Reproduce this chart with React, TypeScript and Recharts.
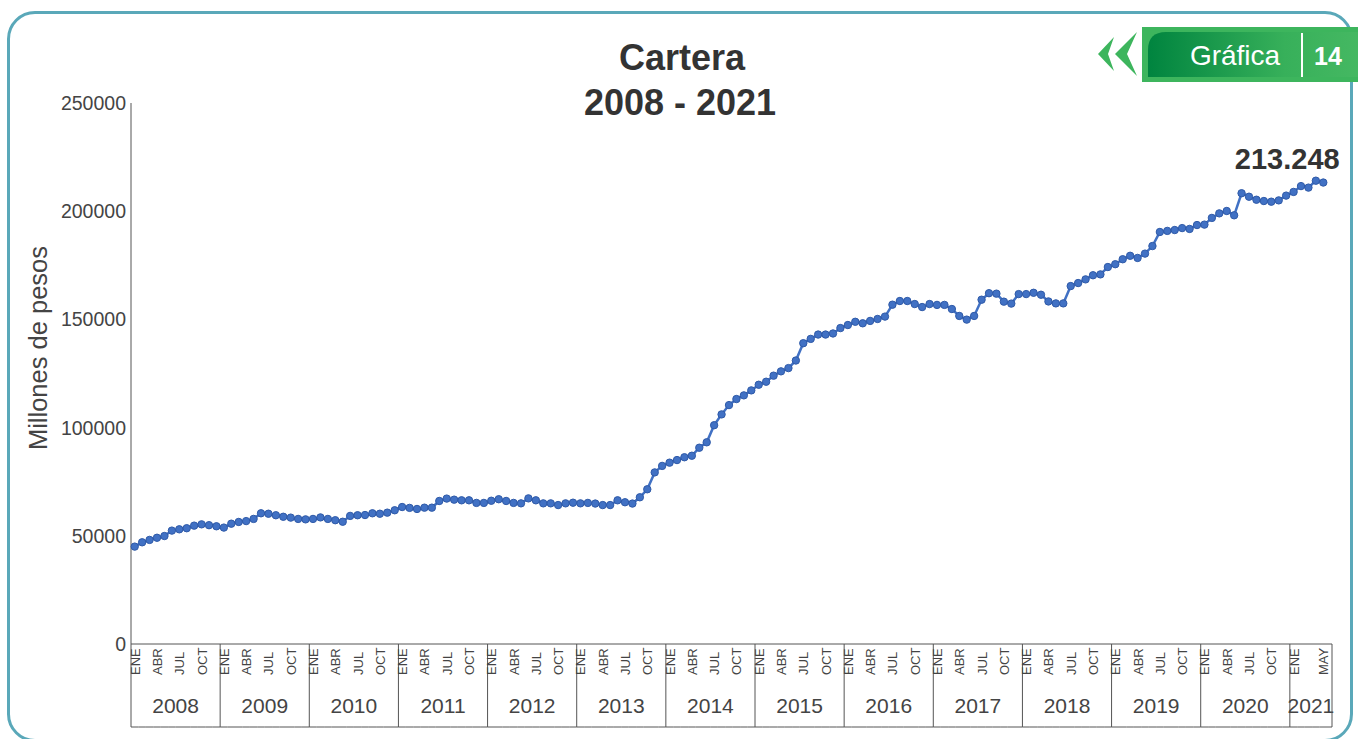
import React from 'react';
import { LineChart, Line, XAxis, YAxis, LabelList } from 'recharts';

// ---------- data ----------
const YEARS = [2008, 2009, 2010, 2011, 2012, 2013, 2014, 2015, 2016, 2017, 2018, 2019, 2020, 2021];
const MONTHS = ['ENE', 'FEB', 'MAR', 'ABR', 'MAY', 'JUN', 'JUL', 'AGO', 'SEP', 'OCT', 'NOV', 'DIC'];

const cartera2008 = [45000, 47000, 48100, 49100, 49900, 52400, 53000, 53500, 54700, 55300, 54900, 54400];
const cartera2009 = [53800, 55600, 56400, 56800, 57800, 60400, 60200, 59500, 58800, 58400, 57800, 57600];
const cartera2010 = [57800, 58500, 57800, 57200, 56500, 59200, 59500, 59600, 60400, 60200, 60700, 61800];
const cartera2011 = [63300, 62900, 62400, 63000, 63000, 66100, 67200, 66700, 66400, 66400, 65200, 65200];
const cartera2012 = [66200, 66900, 66100, 65200, 65000, 67300, 66400, 65000, 65000, 64200, 65000, 65300];
const cartera2013 = [65000, 65200, 64900, 64200, 64200, 66400, 65500, 64900, 67800, 71500, 79300, 82300];
const cartera2014 = [83800, 85000, 86300, 87000, 90700, 93200, 101100, 106100, 110400, 113200, 114900, 117200];
const cartera2015 = [119800, 121200, 124000, 126000, 127500, 131000, 139000, 141000, 143000, 143000, 143500, 146000];
const cartera2016 = [147400, 148900, 148200, 149300, 150200, 151300, 156800, 158500, 158500, 157100, 155700, 157100];
const cartera2017 = [156700, 156700, 154800, 151600, 149900, 151600, 159100, 162100, 161900, 158200, 157300, 161700];
const cartera2018 = [161700, 162300, 161400, 158300, 157400, 157400, 165400, 166800, 168500, 170400, 170800, 174200];
const cartera2019 = [175500, 177800, 179400, 178400, 180400, 183900, 190400, 190900, 191300, 192200, 191800, 193600];
const cartera2020 = [193800, 196900, 199000, 200100, 198100, 208300, 206700, 205300, 204700, 204400, 205000, 207200];
const cartera2021 = [208900, 211600, 210900, 214100, 213248];

const SERIES = [
  cartera2008, cartera2009, cartera2010, cartera2011, cartera2012, cartera2013, cartera2014,
  cartera2015, cartera2016, cartera2017, cartera2018, cartera2019, cartera2020, cartera2021,
];

const MONTH_TICKS = ['ENE', 'ABR', 'JUL', 'OCT'];
const LAST_YEAR_TICKS = ['ENE', 'MAY'];
const Y_TICKS = [0, 50000, 100000, 150000, 200000, 250000];

const TITLE = 'Cartera';
const SUBTITLE = '2008 - 2021';
const Y_LABEL = 'Millones de pesos';
const BADGE_TEXT = 'Gráfica';
const BADGE_NUM = '14';

const data = YEARS.flatMap((year, yi) =>
  SERIES[yi].map((value, m) => ({ key: `${MONTHS[m]} ${year}`, year, month: MONTHS[m], m, value }))
);

// ---------- layout ----------
const W = 1358;
const H = 739;
const PLOT_LEFT = 131;
const PLOT_RIGHT = 1332;
const PLOT_TOP = 103;
const AXIS_H = 83;
const PAD_R = 5;
const BAND = (PLOT_RIGHT - PLOT_LEFT - PAD_R) / data.length;
const FONT = '"Liberation Sans", Arial, Helvetica, sans-serif';
const LINE_COLOR = '#4171c4';
const AXIS_COLOR = '#555';
const TEXT_COLOR = '#444';

const fmt = (v: number) => String(Math.round(v)).replace(/\B(?=(\d{3})+(?!\d))/g, '.');

function AxisTick(props: any) {
  const { x, y, index } = props;
  const d = data[index];
  if (!d) return null;
  const isLast = index === data.length - 1;
  const left = x - BAND / 2;
  const right = isLast ? PLOT_RIGHT : x + BAND / 2;
  const lastYear = d.year === YEARS[YEARS.length - 1];
  const labels = lastYear ? LAST_YEAR_TICKS : MONTH_TICKS;
  const showMonth = labels.includes(d.month);
  const yearCount = data.filter((e) => e.year === d.year).length;
  const yearRight = lastYear ? PLOT_RIGHT : left + yearCount * BAND;
  const mx = x + 5;
  const my = y + 31;
  return (
    <g>
      <line x1={left} y1={y + AXIS_H} x2={right} y2={y + AXIS_H} stroke={AXIS_COLOR} strokeWidth={1} />
      {d.m === 0 && (
        <line x1={left} y1={y} x2={left} y2={y + AXIS_H} stroke={AXIS_COLOR} strokeWidth={1} />
      )}
      {isLast && (
        <line x1={PLOT_RIGHT} y1={y} x2={PLOT_RIGHT} y2={y + AXIS_H} stroke={AXIS_COLOR} strokeWidth={1} />
      )}
      {showMonth && (
        <text
          x={mx}
          y={my}
          transform={`rotate(-90 ${mx} ${my})`}
          fontSize={13}
          fontFamily={FONT}
          fill={TEXT_COLOR}
          textAnchor="start"
        >
          {d.month}
        </text>
      )}
      {d.m === 0 && (
        <text
          x={(left + yearRight) / 2}
          y={y + 69}
          fontSize={21}
          fontFamily={FONT}
          fill={TEXT_COLOR}
          textAnchor="middle"
        >
          {d.year}
        </text>
      )}
    </g>
  );
}

function LastLabel(props: any) {
  const { x, y, value, index } = props;
  if (index !== data.length - 1) return null;
  return (
    <text
      x={x - 36}
      y={y - 14}
      textAnchor="middle"
      fontSize={29}
      fontWeight="bold"
      fontFamily={FONT}
      fill="#333"
    >
      {fmt(value)}
    </text>
  );
}

function YLabel() {
  const cx = 38;
  const cy = 348;
  return (
    <text
      x={cx}
      y={cy}
      transform={`rotate(-90 ${cx} ${cy})`}
      textAnchor="middle"
      dominantBaseline="central"
      fontSize={25.5}
      fontFamily={FONT}
      fill={TEXT_COLOR}
    >
      {Y_LABEL}
    </text>
  );
}

export default function App() {
  return (
    <div style={{ position: 'absolute', left: 0, top: 0, width: W, height: H, overflow: 'hidden', background: '#fff' }}>
      <div
        style={{
          position: 'absolute',
          left: 7,
          top: 11,
          width: 1346,
          height: 731,
          border: '3px solid #5aa8b9',
          borderRadius: 28,
          boxSizing: 'border-box',
          background: '#fff',
        }}
      />
      <div style={{ position: 'absolute', left: 0, top: 0 }}>
        <LineChart
          width={W}
          height={H}
          data={data}
          margin={{ top: PLOT_TOP, right: W - PLOT_RIGHT, bottom: H - PLOT_TOP - 541 - AXIS_H, left: PLOT_LEFT - 60 }}
        >
          <XAxis
            dataKey="key"
            scale="band"
            interval={0}
            height={AXIS_H}
            tickLine={false}
            tickSize={0}
            tickMargin={0}
            axisLine={{ stroke: AXIS_COLOR }}
            padding={{ left: 0, right: PAD_R }}
            tick={<AxisTick />}
          />
          <YAxis
            width={60}
            domain={[0, 250000]}
            ticks={Y_TICKS}
            tickLine={false}
            tickSize={4}
            tickMargin={1}
            axisLine={{ stroke: AXIS_COLOR }}
            tick={{ fontSize: 19.5, fontFamily: FONT, fill: TEXT_COLOR }}
            label={<YLabel />}
          />
          <Line
            type="linear"
            dataKey="value"
            stroke={LINE_COLOR}
            strokeWidth={2.5}
            dot={{ r: 3.7, fill: LINE_COLOR, stroke: '#2f5aa8', strokeWidth: 1 }}
            activeDot={false}
            isAnimationActive={false}
          >
            <LabelList dataKey="value" content={<LastLabel />} />
          </Line>
        </LineChart>
      </div>
      <svg width={W} height={H} style={{ position: 'absolute', left: 0, top: 0, pointerEvents: 'none' }}>
        <defs>
          <linearGradient id="badgeGrad" x1="0" y1="0" x2="1" y2="0">
            <stop offset="0%" stopColor="#00843f" />
            <stop offset="65%" stopColor="#37b05a" />
            <stop offset="100%" stopColor="#45b862" />
          </linearGradient>
        </defs>
        <text x={682} y={70} textAnchor="middle" fontSize={36} fontWeight="bold" fontFamily={FONT} fill="#333">
          {TITLE}
        </text>
        <text x={680} y={115} textAnchor="middle" fontSize={36} fontWeight="bold" fontFamily={FONT} fill="#333">
          {SUBTITLE}
        </text>
        <polygon points="1098,54 1114,37 1108,54 1114,71" fill="#3db55d" />
        <polygon points="1115,54 1137,32 1127,54 1137,76" fill="#3db55d" />
        <rect x={1142} y={27} width={216} height={55} fill="#3db55d" />
        <path d="M1148,50 Q1148,32 1166,32 L1358,32 L1358,77 L1148,77 Z" fill="url(#badgeGrad)" />
        <text x={1235} y={65} textAnchor="middle" fontSize={28} fontFamily={FONT} fill="#fff">
          {BADGE_TEXT}
        </text>
        <line x1={1302} y1={33} x2={1302} y2={77} stroke="#fff" strokeWidth={2} />
        <text x={1328} y={65} textAnchor="middle" fontSize={25} fontWeight="bold" fontFamily={FONT} fill="#fff">
          {BADGE_NUM}
        </text>
      </svg>
    </div>
  );
}
